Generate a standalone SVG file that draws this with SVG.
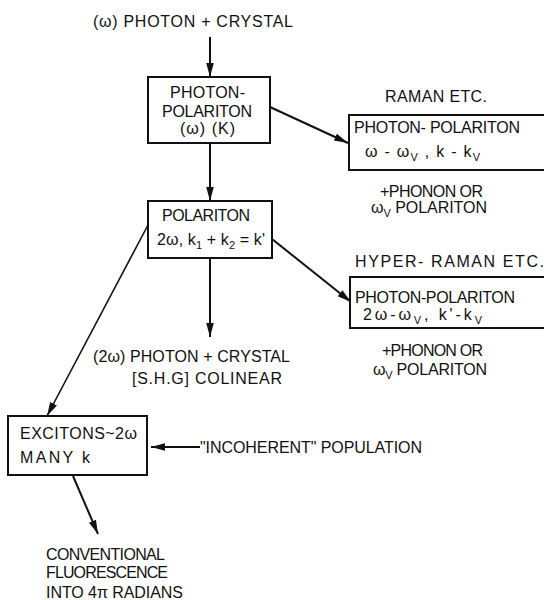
<svg xmlns="http://www.w3.org/2000/svg" width="544" height="600" viewBox="0 0 544 600">
<style>
text{font-family:"Liberation Sans",Arial,sans-serif;font-size:16px;fill:#111}
.s{font-size:11px}
.box{fill:#fff;stroke:#111;stroke-width:2}
.ln{stroke:#111;stroke-width:2;fill:none}
</style>
<defs>
<marker id="ah" markerUnits="userSpaceOnUse" markerWidth="15" markerHeight="10" refX="14" refY="5" orient="auto">
<path d="M0,1.2 L14,5 L0,8.8 Z" fill="#111"/>
</marker>
</defs>
<rect width="544" height="600" fill="#fff"/>
<g id="connectors">
<line class="ln" x1="210" y1="37" x2="210" y2="77" marker-end="url(#ah)"/>
<line class="ln" x1="210" y1="143" x2="210" y2="201" marker-end="url(#ah)"/>
<line class="ln" x1="270" y1="107" x2="348" y2="143" marker-end="url(#ah)"/>
<line class="ln" x1="272" y1="239" x2="351" y2="302" marker-end="url(#ah)"/>
<line class="ln" x1="210" y1="258" x2="210" y2="337" marker-end="url(#ah)"/>
<line class="ln" x1="148" y1="225" x2="47" y2="416" marker-end="url(#ah)" style="stroke-width:1.6"/>
<line class="ln" x1="200" y1="447" x2="151" y2="447" marker-end="url(#ah)"/>
<line class="ln" x1="73" y1="476" x2="98" y2="534" marker-end="url(#ah)"/>
</g>
<g id="source">
<text x="93" y="27" textLength="200">(ω) PHOTON + CRYSTAL</text>
</g>
<g id="photon-polariton">
<rect class="box" x="148" y="77" width="122" height="66"/>
<text x="170" y="98" textLength="75">PHOTON-</text>
<text x="162" y="117" textLength="90">POLARITON</text>
<text x="180" y="134" textLength="55">(ω) (K)</text>
</g>
<g id="raman">
<text x="385" y="102" textLength="102">RAMAN ETC.</text>
<rect class="box" x="349" y="115" width="200" height="55"/>
<text x="354" y="133" textLength="166">PHOTON- POLARITON</text>
<text x="365" y="157" textLength="115">ω - ω<tspan class="s" dy="4">V</tspan><tspan dy="-4"> , k - k</tspan><tspan class="s" dy="4">V</tspan></text>
<text x="380" y="197" textLength="103">+PHONON OR</text>
<text x="371" y="213" textLength="116">ω<tspan class="s" dy="4">V</tspan><tspan dy="-4"> POLARITON</tspan></text>
</g>
<g id="polariton">
<rect class="box" x="148" y="201" width="124" height="57"/>
<text x="162" y="221" textLength="88">POLARITON</text>
<text x="157" y="245" textLength="108">2ω, k<tspan class="s" dy="4">1</tspan><tspan dy="-4"> + k</tspan><tspan class="s" dy="4">2</tspan><tspan dy="-4"> = k'</tspan></text>
</g>
<g id="hyper-raman">
<text x="355" y="267" textLength="189">HYPER- RAMAN ETC.</text>
<rect class="box" x="350" y="277" width="200" height="51"/>
<text x="355" y="303" textLength="160">PHOTON-POLARITON</text>
<text x="363" y="320" textLength="119">2ω-ω<tspan class="s" dy="4">V</tspan><tspan dy="-4">, k'-k</tspan><tspan class="s" dy="4">V</tspan></text>
<text x="382" y="356" textLength="101">+PHONON OR</text>
<text x="373" y="375" textLength="114">ω<tspan class="s" dy="4">V</tspan><tspan dy="-4"> POLARITON</tspan></text>
</g>
<g id="shg">
<text x="93" y="362" textLength="197">(2ω) PHOTON + CRYSTAL</text>
<text x="132" y="384" textLength="150">[S.H.G]  COLINEAR</text>
</g>
<g id="excitons">
<rect class="box" x="8" y="416" width="139" height="59"/>
<text x="20" y="439" textLength="117">EXCITONS~2ω</text>
<text x="20" y="463" textLength="70">MANY  k</text>
</g>
<g id="incoherent">
<text x="200" y="453" textLength="222">"INCOHERENT" POPULATION</text>
</g>
<g id="fluorescence">
<text x="46" y="560" textLength="119">CONVENTIONAL</text>
<text x="46" y="578" textLength="122">FLUORESCENCE</text>
<text x="46" y="598" textLength="137">INTO 4π RADIANS</text>
</g>
</svg>
